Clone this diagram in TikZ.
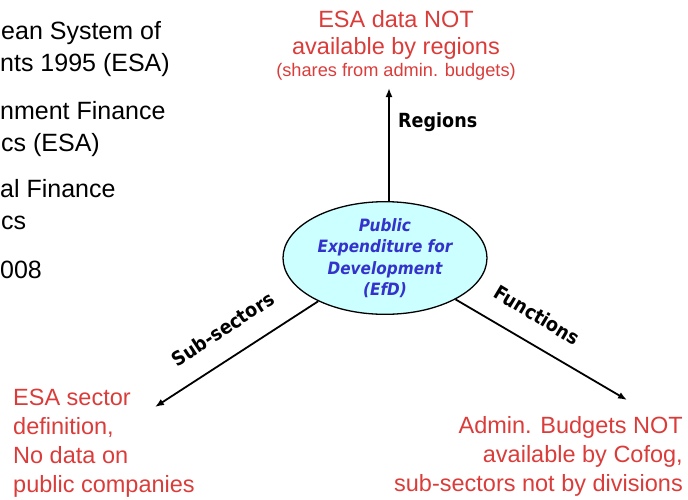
\documentclass[tikz,border=0pt]{standalone}
\usepackage{fontspec}
\setmainfont{Liberation Sans}
\newfontfamily\labelfont[FakeStretch=0.9]{DejaVu Sans}
\usetikzlibrary{shapes.geometric,arrows.meta}
\definecolor{notered}{RGB}{218,60,58}
\definecolor{efdblue}{RGB}{51,51,204}
\definecolor{efdfill}{RGB}{204,255,255}
\begin{document}
\begin{tikzpicture}[x=1pt,y=-1pt,
  leftline/.style={anchor=base west,inner sep=0,font=\fontsize{25}{30}\selectfont},
  redline/.style={anchor=base,inner sep=0,text=notered,font=\fontsize{23.5}{28}\selectfont},
  redleft/.style={redline,anchor=base west},
  redright/.style={redline,anchor=base east},
  redsmall/.style={anchor=base,inner sep=0,text=notered,font=\fontsize{18.2}{22}\selectfont},
  axislabel/.style={inner sep=0,font=\labelfont\bfseries\fontsize{19.5}{22}\selectfont},
  arr/.style={line width=1.8pt,-{Latex[length=9pt,width=7pt]}}]
\useasboundingbox (0,0) rectangle (688,499);

% source list on the left
\node[leftline] (l1) at (1,39) {ean System of};
\node[leftline] (l2) at (0,71) {nts 1995 (ESA)};
\node[leftline] (l3) at (0,119) {nment Finance};
\node[leftline] (l4) at (1,151) {cs (ESA)};
\node[leftline] (l5) at (0,197) {al Finance};
\node[leftline] (l6) at (1,229) {cs};
\node[leftline] (l7) at (0,278) {008};

% central ellipse
\node[ellipse,draw,line width=1.3pt,fill=efdfill,minimum width=204,minimum height=112,inner sep=0,
      text=efdblue,align=center,
      font=\labelfont\bfseries\itshape\fontsize{17}{21.5}\selectfont]
  (efd) at (385,258) {Public\\Expenditure for\\Development\\(EfD)};

% arrow targets
\coordinate (regtip) at (389,88);
\coordinate (subtip) at (155,407);
\coordinate (funtip) at (627,400);

\draw[arr] (regtip |- efd.north) -- (regtip);
\draw[arr] (efd) -- (subtip);
\draw[arr] (efd) -- (funtip);

% axis labels
\node[axislabel,anchor=base west] (reglab) at (398,127) {Regions};
\node[axislabel,rotate=33.3] (sublab) at (223,329) {Sub-sectors};
\node[axislabel,rotate=-31] (funlab) at (537,315) {Functions};

% top note
\node[redline] (t1) at (396,27) {ESA data NOT};
\node[redline] (t2) at (396,54) {available by regions};
\node[redsmall] (t3) at (396,76) {(shares from admin. budgets)};

% bottom-left note
\node[redleft] (b1) at (13,405) {ESA sector};
\node[redleft] (b2) at (13,434) {definition,};
\node[redleft] (b3) at (13,463) {No data on};
\node[redleft] (b4) at (13,492) {public companies};

% bottom-right note
\node[redright] (r1) at (683,433) {Admin. Budgets NOT};
\node[redright] (r2) at (683,462) {available by Cofog,};
\node[redright] (r3) at (683,491) {sub-sectors not by divisions};
\end{tikzpicture}
\end{document}
